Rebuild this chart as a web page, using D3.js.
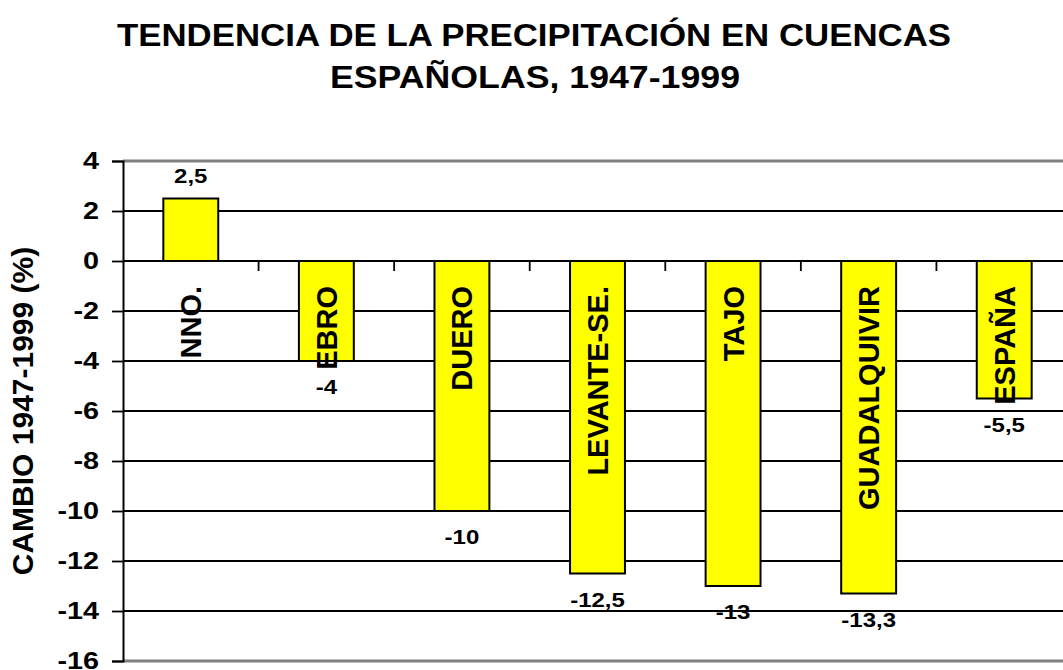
<!DOCTYPE html>
<html>
<head>
<meta charset="utf-8">
<script src="https://cdn.jsdelivr.net/npm/d3@7"></script>
<style>
  body { margin: 0; background: #fff; }
  svg { display: block; font-family: "Liberation Sans", Arial, sans-serif; font-weight: bold; }
</style>
</head>
<body>
<div id="chart"></div>
<script>
// cuencas y cambio de precipitacion (%)
const cuencas = ["NNO.", "EBRO", "DUERO", "LEVANTE-SE.", "TAJO", "GUADALQUIVIR", "ESPAÑA"];
const cambio = [2.5, -4, -10, -12.5, -13, -13.3, -5.5];
const etiquetas = ["2,5", "-4", "-10", "-12,5", "-13", "-13,3", "-5,5"];
const yTicks = [4, 2, 0, -2, -4, -6, -8, -10, -12, -14, -16];

const width = 1063, height = 670;
const mLeft = 123, mRight = 1072, mTop = 161, mBottom = 661;

const svg = d3.select("#chart").append("svg")
    .attr("width", width)
    .attr("height", height);

const x = d3.scaleBand()
    .domain(cuencas)
    .range([mLeft, mRight])
    .paddingInner(0.595)
    .paddingOuter(0.2975);

const xCat = d3.scaleBand().domain(cuencas).range([mLeft, mRight]);

const y = d3.scaleLinear()
    .domain([-16, 4])
    .range([mBottom, mTop]);

// titulo
svg.append("text")
    .attr("x", 534).attr("y", 46)
    .attr("text-anchor", "middle")
    .attr("font-size", 32)
    .attr("textLength", 834)
    .attr("lengthAdjust", "spacingAndGlyphs")
    .text("TENDENCIA DE LA PRECIPITACIÓN EN CUENCAS");
svg.append("text")
    .attr("x", 535).attr("y", 88)
    .attr("text-anchor", "middle")
    .attr("font-size", 32)
    .attr("textLength", 410)
    .attr("lengthAdjust", "spacingAndGlyphs")
    .text("ESPAÑOLAS, 1947-1999");

// lineas de division
svg.append("g")
    .selectAll("line")
    .data(yTicks)
    .enter()
    .append("line")
    .attr("x1", mLeft).attr("x2", width)
    .attr("y1", d => y(d)).attr("y2", d => y(d))
    .attr("stroke", d => (d === 4 || d === -16) ? "#808080" : "#000")
    .attr("stroke-width", d => (d === 4 || d === -16) ? 3 : 1.8);

// eje y
const yAxis = svg.append("g")
    .attr("transform", "translate(" + mLeft + ",0)")
    .call(d3.axisLeft(y).tickValues(yTicks).tickSize(11).tickPadding(10).tickFormat(d => d));
yAxis.select(".domain").attr("stroke", "#000").attr("stroke-width", 2);
yAxis.selectAll(".tick line").attr("stroke", "#000").attr("stroke-width", 1.8);
yAxis.selectAll(".tick text")
    .attr("font-size", 24)
    .attr("font-family", "Liberation Sans, Arial, sans-serif")
    .attr("font-weight", "bold")
    .attr("fill", "#000")
    .attr("x", -20)
    .attr("transform", "scale(1.2,1)");

svg.append("text")
    .attr("transform", "translate(33," + ((mTop + mBottom) / 2) + ") rotate(-90)")
    .attr("text-anchor", "middle")
    .attr("font-size", 30)
    .text("CAMBIO 1947-1999 (%)");

// marcas entre categorias en el cero
svg.append("g")
    .selectAll("line")
    .data(cuencas.slice(1))
    .enter()
    .append("line")
    .attr("x1", d => xCat(d)).attr("x2", d => xCat(d))
    .attr("y1", y(0)).attr("y2", y(0) + 10)
    .attr("stroke", "#000")
    .attr("stroke-width", 1.8);

// barras
svg.append("g")
    .selectAll("rect")
    .data(cuencas)
    .enter()
    .append("rect")
    .attr("x", d => x(d))
    .attr("width", x.bandwidth())
    .attr("y", (d, i) => y(Math.max(0, cambio[i])))
    .attr("height", (d, i) => Math.abs(y(cambio[i]) - y(0)))
    .attr("fill", "#ffff00")
    .attr("stroke", "#000")
    .attr("stroke-width", 2);

// nombres de cuenca
svg.append("g")
    .selectAll("text")
    .data(cuencas)
    .enter()
    .append("text")
    .attr("transform", d => "translate(" + (x(d) + x.bandwidth() / 2 + 10.5) + "," + (y(0) + 25) + ") rotate(-90)")
    .attr("text-anchor", "end")
    .attr("font-size", 29)
    .text(d => d);

// valores
svg.append("g")
    .selectAll("text")
    .data(cuencas)
    .enter()
    .append("text")
    .attr("transform", (d, i) => "translate(" + (x(d) + x.bandwidth() / 2) + "," +
        (cambio[i] > 0 ? y(cambio[i]) - 16 : y(cambio[i]) + 33) + ") scale(1.2,1)")
    .attr("text-anchor", "middle")
    .attr("font-size", 20)
    .text((d, i) => etiquetas[i]);
</script>
</body>
</html>
